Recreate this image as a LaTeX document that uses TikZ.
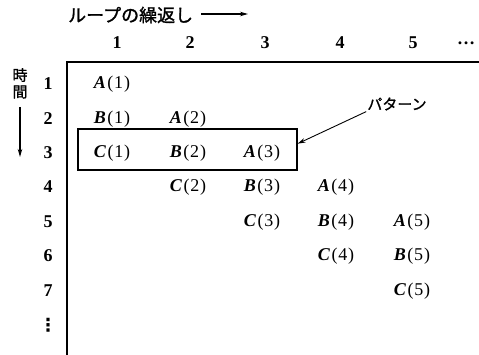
\documentclass[tikz,border=0pt]{standalone}
\usepackage{fontspec}
\setmainfont{Liberation Serif}
\newfontfamily\jpfont[FakeBold=1.2]{Noto Sans CJK JP}
\newfontfamily\djvfont{DejaVu Sans}
\usetikzlibrary{arrows.meta,calc}
\newcommand{\ent}[2]{\textbf{\textit{#1}}\kern1.5pt(\kern0.8pt#2\kern0.8pt)}
\tikzset{
  entry/.style={inner sep=0pt,font=\fontsize{18}{20}\selectfont},
  hdr/.style={inner sep=0pt,font=\fontsize{18}{20}\selectfont\bfseries},
  jp/.style={inner sep=0pt,font=\fontsize{#1}{#1}\selectfont\jpfont},
  axis/.style={line width=1.3pt},
  arr/.style={line width=1.1pt,-{Stealth[length=8pt,width=4.5pt]}},
  patbox/.style={draw,line width=1.1pt,minimum width=219pt,minimum height=41pt,inner sep=0pt}
}
\begin{document}
\begin{tikzpicture}[x=1pt,y=-1pt]
\useasboundingbox (0,0) rectangle (479,355);
% title
\node[jp=18,anchor=west] (title) at (68,15) {ループの繰返し};
\coordinate (tend) at (248,14);
\draw[arr] ($(title.east)+(8,-1)$) -- (tend);
% column headers
\foreach \c/\x in {1/117,2/190,3/265,4/340,5/413}{
  \node[hdr] (h\c) at (\x,43) {\c};
}
\node[hdr] (hdots) at (466,43) {\textbf{\dots}};
% axes
\coordinate (o) at (67,62);
\coordinate (xe) at (479,62);
\coordinate (ye) at (67,355);
\draw[axis] (xe) -- (o) -- (ye);
% time label
\node[jp=15] (ji) at (20,75) {時};
\node[jp=15] (kan) at (20,92) {間};
\coordinate (karr) at (20,157);
\draw[arr] ($(kan.south)+(0,8)$) -- (karr);
% row labels
\foreach \r/\y in {1/84,2/119,3/153,4/187,5/222,6/256,7/291}{
  \node[hdr] (r\r) at (48,\y) {\r};
}
\node[inner sep=0pt,font=\fontsize{18}{20}\selectfont\djvfont\bfseries] (rdots) at (48,325) {⋮};
% entries
\node[entry] (A1) at (112,84) {\ent{A}{1}};
\node[entry] (B1) at (112,119) {\ent{B}{1}};
\node[entry] (A2) at (188,119) {\ent{A}{2}};
\node[entry] (C1) at (112,153) {\ent{C}{1}};
\node[entry] (B2) at (188,153) {\ent{B}{2}};
\node[entry] (A3) at (262,153) {\ent{A}{3}};
\node[entry] (C2) at (188,187) {\ent{C}{2}};
\node[entry] (B3) at (262,187) {\ent{B}{3}};
\node[entry] (A4) at (336,187) {\ent{A}{4}};
\node[entry] (C3) at (262,222) {\ent{C}{3}};
\node[entry] (B4) at (336,222) {\ent{B}{4}};
\node[entry] (A5) at (412,222) {\ent{A}{5}};
\node[entry] (C4) at (336,256) {\ent{C}{4}};
\node[entry] (B5) at (412,256) {\ent{B}{5}};
\node[entry] (C5) at (412,291) {\ent{C}{5}};
% pattern box
\node[patbox] (box) at (187.5,149.5) {};
\node[jp=15,inner sep=1pt] (pat) at (397,104) {パターン};
\draw[arr,line width=0.9pt] (pat.south west) -- (box.3);
\end{tikzpicture}
\end{document}
